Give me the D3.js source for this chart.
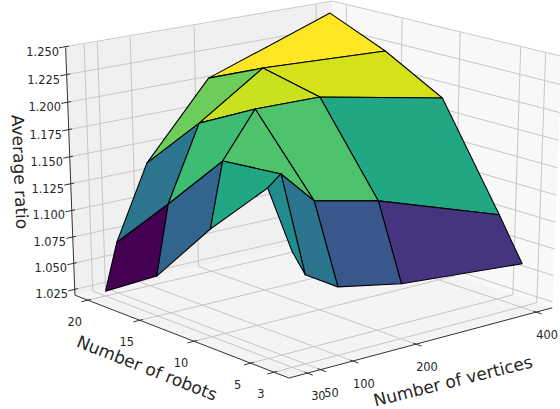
<!DOCTYPE html>
<html>
<head>
<meta charset="utf-8">
<style>
  body { margin: 0; background: #fff; }
  text { font-family: "DejaVu Sans", sans-serif; fill: #262626; }
</style>
</head>
<body>
<div id="chart"></div>
<script src="https://cdn.jsdelivr.net/npm/d3@7"></script>
<script>
const vertices = [30, 50, 100, 200, 400];
const robots = [3, 5, 10, 15, 20];
const ratioTicks = [1.025, 1.05, 1.075, 1.1, 1.125, 1.15, 1.175, 1.2, 1.225, 1.25];

// one list per robot count, in the order of vertices
const ratios3 = [1.1230, 1.0992, 1.0814, 1.0699, 1.0604];
const ratios5 = [1.1709, 1.1805, 1.1507, 1.1379, 1.0993];
const ratios10 = [1.1179, 1.1759, 1.2159, 1.2153, 1.1923];
const ratios15 = [1.0569, 1.1209, 1.1885, 1.2272, 1.2220];
const ratios20 = [1.0241, 1.0682, 1.1363, 1.2041, 1.2445];
const ratios = [ratios3, ratios5, ratios10, ratios15, ratios20];

const width = 560;
const height = 409;

// camera, same maths as mplot3d
const elev = 19.737 * Math.PI / 180;
const azim = -129.912 * Math.PI / 180;
const dist = 9.086;
const scaleX = 331.5765, scaleY = 254.0613, originX = 311.9992, originY = 179.2766;
const paneOut = 1 / 48;   // panes stick out a bit of the unit box
const margin = 0.052;
const lo = -paneOut, hi = 1 + paneOut;

const xScale = d3.scaleLinear().domain([30 - 370 * margin, 400 + 370 * margin]).range([0, 1]);
const yScale = d3.scaleLinear().domain([3 - 17 * margin, 20 + 17 * margin]).range([0, 1]);
const zScale = d3.scaleLinear().domain([1.0240, 1.2447]).range([0, 1]);

const n = [Math.cos(azim) * Math.cos(elev), Math.sin(azim) * Math.cos(elev), Math.sin(elev)];
const eye = n.map(a => 0.5 + dist * a);
const uLen = Math.hypot(n[0], n[1]);
const u = [-n[1] / uLen, n[0] / uLen, 0];
const v = [n[1] * u[2] - n[2] * u[1], n[2] * u[0] - n[0] * u[2], n[0] * u[1] - n[1] * u[0]];
const dot = (a, b) => a[0] * b[0] + a[1] * b[1] + a[2] * b[2];

function depth(p) {
  return -dot(n, [p[0] - eye[0], p[1] - eye[1], p[2] - eye[2]]);
}
function project(p) {
  const r = [p[0] - eye[0], p[1] - eye[1], p[2] - eye[2]];
  const w = -dot(n, r);
  return [originX + scaleX * dot(u, r) * dist / w, originY - scaleY * dot(v, r) * dist / w];
}

const path3d = d3.line().x(d => project(d)[0]).y(d => project(d)[1]);

const svg = d3.select("#chart").append("svg")
  .attr("width", width)
  .attr("height", height)
  .style("display", "block");

// panes
const panes = [
  { fill: "#f0f0f0", pts: [[lo, hi, lo], [hi, hi, lo], [hi, hi, hi], [lo, hi, hi]] },
  { fill: "#f8f8f8", pts: [[hi, lo, lo], [hi, hi, lo], [hi, hi, hi], [hi, lo, hi]] },
  { fill: "#f4f4f4", pts: [[lo, lo, lo], [hi, lo, lo], [hi, hi, lo], [lo, hi, lo]] }
];
svg.selectAll(".pane").data(panes).enter().append("path")
  .attr("class", "pane")
  .attr("d", d => path3d(d.pts) + "Z")
  .attr("fill", d => d.fill);

// grid lines run over the floor and up the walls
const gridLines = [];
for (const t of vertices) {
  const x = xScale(t);
  gridLines.push([[x, lo, lo], [x, hi, lo], [x, hi, hi]]);
}
for (const t of robots) {
  const y = yScale(t);
  gridLines.push([[lo, y, lo], [hi, y, lo], [hi, y, hi]]);
}
for (const t of ratioTicks) {
  const z = zScale(t);
  gridLines.push([[lo, hi, z], [hi, hi, z], [hi, lo, z]]);
}
svg.selectAll(".grid").data(gridLines).enter().append("path")
  .attr("class", "grid")
  .attr("d", path3d)
  .attr("fill", "none")
  .attr("stroke", "#c6c6c6")
  .attr("stroke-width", 1);

// axis lines
const axisLines = [
  [[lo, lo, lo], [lo, hi, lo]],
  [[lo, lo, lo], [hi, lo, lo]],
  [[lo, hi, lo], [lo, hi, hi]]
];
svg.selectAll(".axisline").data(axisLines).enter().append("path")
  .attr("class", "axisline")
  .attr("d", path3d)
  .attr("fill", "none")
  .attr("stroke", "#333")
  .attr("stroke-width", 1);

// ticks + labels
const tickOut = 0.024, tickIn = 0.012;
const fmt = d3.format(".3f");
const ticks = [];
for (const t of vertices) {
  const x = xScale(t);
  ticks.push({ a: [x, lo - tickOut, lo], b: [x, lo + tickIn, lo], at: [x, lo, lo], label: t, dx: 11, dy: 23 });
}
for (const t of robots) {
  const y = yScale(t);
  ticks.push({ a: [lo - tickOut, y, lo], b: [lo + tickIn, y, lo], at: [lo, y, lo], label: t, dx: -13, dy: 21.5 });
}
for (const t of ratioTicks) {
  const z = zScale(t);
  ticks.push({ a: [lo - tickOut, hi, z], b: [lo + tickIn, hi, z], at: [lo, hi, z], label: fmt(t), dx: -23, dy: 5 });
}
svg.selectAll(".tick").data(ticks).enter().append("path")
  .attr("class", "tick")
  .attr("d", d => path3d([d.a, d.b]))
  .attr("stroke", "#333")
  .attr("stroke-width", 1);
svg.selectAll(".ticklabel").data(ticks).enter().append("text")
  .attr("class", "ticklabel")
  .attr("x", d => project(d.at)[0] + d.dx)
  .attr("y", d => project(d.at)[1] + d.dy)
  .attr("text-anchor", "middle")
  .attr("dominant-baseline", "central")
  .attr("font-size", 11.4)
  .text(d => d.label);

// surface cells, far ones first
const faces = [];
for (let i = 0; i < robots.length - 1; i++) {
  for (let j = 0; j < vertices.length - 1; j++) {
    const corners = [[i, j], [i, j + 1], [i + 1, j + 1], [i + 1, j]];
    const pts = corners.map(c => [xScale(vertices[c[1]]), yScale(robots[c[0]]), zScale(ratios[c[0]][c[1]])]);
    faces.push({
      pts: pts,
      avg: d3.mean(corners, c => ratios[c[0]][c[1]]),
      depth: d3.mean(pts, depth)
    });
  }
}
faces.sort((a, b) => b.depth - a.depth);
const color = d3.scaleSequential(d3.interpolateViridis).domain(d3.extent(faces, d => d.avg));
svg.selectAll(".face").data(faces).enter().append("path")
  .attr("class", "face")
  .attr("d", d => path3d(d.pts) + "Z")
  .attr("fill", d => color(d.avg))
  .attr("stroke", "#000")
  .attr("stroke-width", 1.1)
  .attr("stroke-linejoin", "round");

// axis titles
const titles = [
  { text: "Number of vertices", x: 453, y: 381, rot: -14 },
  { text: "Number of robots", x: 147, y: 368, rot: 21.5 },
  { text: "Average ratio", x: 20, y: 172, rot: 87.5 }
];
svg.selectAll(".title").data(titles).enter().append("text")
  .attr("class", "title")
  .attr("transform", d => `translate(${d.x},${d.y}) rotate(${d.rot})`)
  .attr("text-anchor", "middle")
  .attr("dominant-baseline", "central")
  .attr("font-size", 17)
  .text(d => d.text);
</script>
</body>
</html>
